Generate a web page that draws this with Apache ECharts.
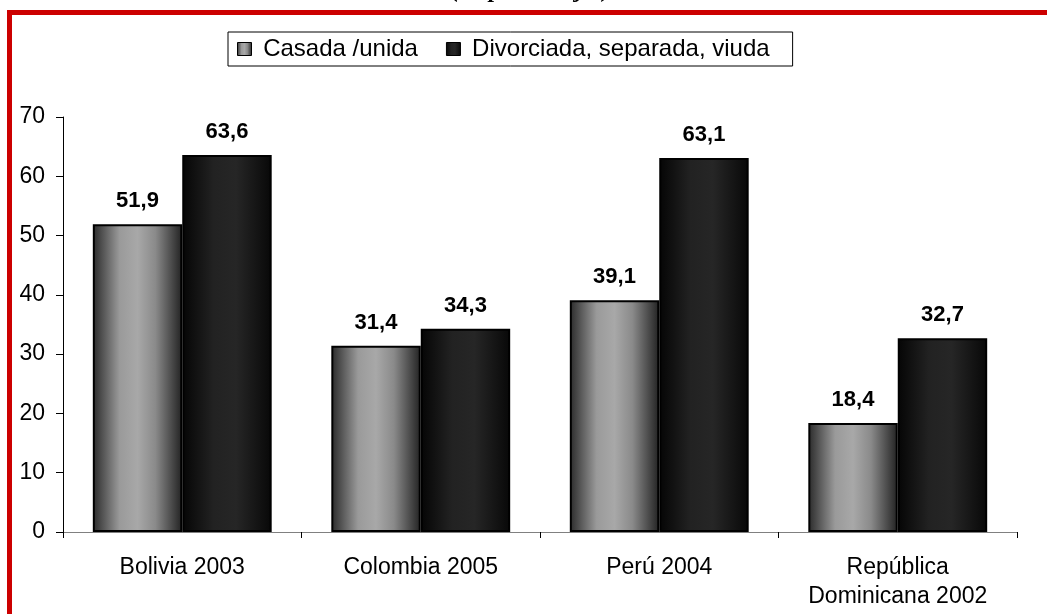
<!DOCTYPE html>
<html>
<head>
<meta charset="utf-8">
<script src="https://cdn.jsdelivr.net/npm/echarts@6/dist/echarts.min.js"></script>
<style>
html,body{margin:0;padding:0;background:#fff;}
#main{width:1047px;height:614px;}
</style>
</head>
<body>
<div id="main"></div>
<script>
const categories = ['Bolivia 2003', 'Colombia 2005', 'Perú 2004', 'República\nDominicana 2002'];
const seriesNames = ['Casada /unida', 'Divorciada, separada, viuda'];
const casada = [51.9, 31.4, 39.1, 18.4];
const divorciada = [63.6, 34.3, 63.1, 32.7];
const yTicks = [0, 10, 20, 30, 40, 50, 60, 70];
const subtitle = '(en porcentajes)';

const font = 'Arial, "Liberation Sans", sans-serif';
const gradCasada = new echarts.graphic.LinearGradient(0, 0, 1, 0, [
  {offset: 0, color: '#2a2a2a'},
  {offset: 0.3, color: '#9a9a9a'},
  {offset: 0.5, color: '#a8a8a8'},
  {offset: 0.7, color: '#8a8a8a'},
  {offset: 1, color: '#222222'}
]);
const gradDiv = new echarts.graphic.LinearGradient(0, 0, 1, 0, [
  {offset: 0, color: '#050505'},
  {offset: 0.35, color: '#222222'},
  {offset: 0.6, color: '#262626'},
  {offset: 1, color: '#080808'}
]);
const fmt = p => String(p.value).replace('.', ',');

const chart = echarts.init(document.getElementById('main'), null, {renderer: 'canvas'});
chart.setOption({
  animation: false,
  backgroundColor: '#fff',
  graphic: [{
    type: 'text',
    x: 531,
    y: -9,
    silent: true,
    style: {
      text: subtitle,
      align: 'center',
      verticalAlign: 'middle',
      font: 'italic bold 24px "Liberation Serif", "Times New Roman", serif',
      fill: '#000'
    }
  }, {
    type: 'rect',
    shape: {x: 9.5, y: 12.5, width: 2000, height: 2000},
    style: {fill: 'none', stroke: '#cc0000', lineWidth: 5},
    silent: true,
    z: 100
  }],
  legend: {
    left: 228,
    top: 32,
    data: seriesNames,
    icon: 'rect',
    formatter: name => ' ' + name,
    itemWidth: 14,
    itemHeight: 13,
    itemGap: 28,
    padding: [5, 23, 5, 9],
    borderColor: '#000',
    borderWidth: 1,
    itemStyle: {borderColor: '#000', borderWidth: 1},
    textStyle: {fontFamily: font, fontSize: 24, color: '#000'}
  },
  grid: {left: 63, right: 30, top: 117, bottom: 82},
  xAxis: {
    type: 'category',
    data: categories,
    axisLine: {lineStyle: {color: '#808080', width: 1}},
    axisTick: {show: true, length: 6, lineStyle: {color: '#000'}},
    axisLabel: {fontFamily: font, fontSize: 23, color: '#000', margin: 21, lineHeight: 29}
  },
  yAxis: {
    type: 'value',
    min: yTicks[0],
    max: yTicks[yTicks.length - 1],
    interval: 10,
    splitLine: {show: false},
    axisLine: {show: true, lineStyle: {color: '#000'}},
    axisTick: {show: true, length: 7, lineStyle: {color: '#000'}},
    axisLabel: {fontFamily: font, fontSize: 23, color: '#000', margin: 18}
  },
  series: [{
    name: seriesNames[0],
    type: 'bar',
    data: casada,
    barGap: '0%',
    barCategoryGap: '25%',
    itemStyle: {color: gradCasada, borderColor: '#000', borderWidth: 2},
    label: {show: true, position: 'top', distance: 12, formatter: fmt, fontFamily: font, fontSize: 22, fontWeight: 'bold', color: '#000'}
  }, {
    name: seriesNames[1],
    type: 'bar',
    data: divorciada,
    itemStyle: {color: gradDiv, borderColor: '#000', borderWidth: 2},
    label: {show: true, position: 'top', distance: 12, formatter: fmt, fontFamily: font, fontSize: 22, fontWeight: 'bold', color: '#000'}
  }]
});
</script>
</body>
</html>
